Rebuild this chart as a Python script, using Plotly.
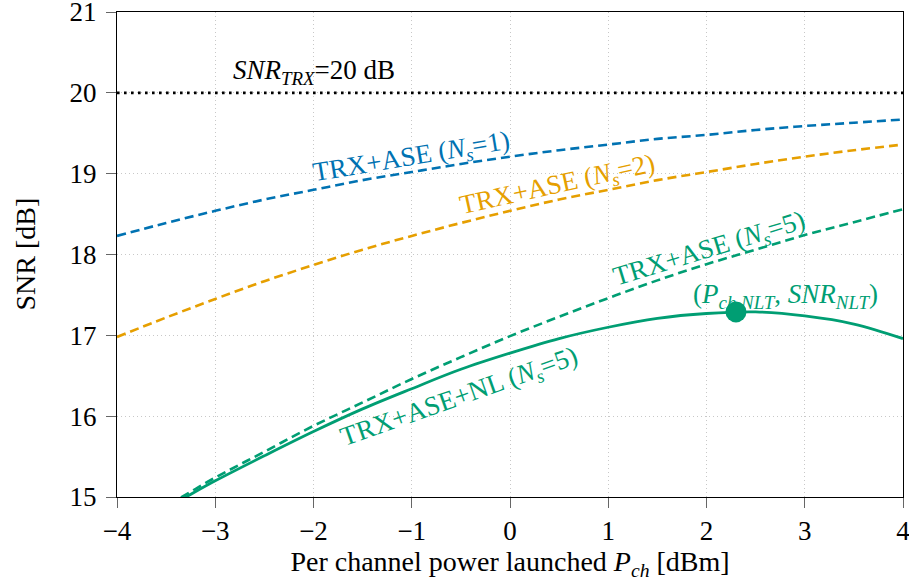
import plotly.graph_objects as go

# Launch power grid [dBm]
p_ch = [-4.0, -3.5, -3.0, -2.5, -2.0, -1.5, -1.0, -0.5, 0.0, 0.5,
        1.0, 1.5, 2.0, 2.5, 3.0, 3.5, 4.0]

# SNR [dB] per configuration
snr_ase_ns1 = [18.23, 18.39, 18.54, 18.68, 18.80, 18.92, 19.02, 19.12, 19.21,
               19.29, 19.36, 19.43, 19.48, 19.54, 19.59, 19.63, 19.67]
snr_ase_ns2 = [16.98, 17.22, 17.45, 17.67, 17.87, 18.06, 18.23, 18.39, 18.54,
               18.68, 18.80, 18.92, 19.02, 19.12, 19.21, 19.29, 19.36]
snr_ase_ns5 = [14.65, 14.90, 15.24, 15.56, 15.88, 16.17, 16.46, 16.73, 16.99,
               17.23, 17.46, 17.68, 17.88, 18.06, 18.24, 18.40, 18.56]
snr_nl_ns5 = [14.60, 14.87, 15.20, 15.51, 15.81, 16.09, 16.34, 16.58, 16.78,
              16.96, 17.10, 17.21, 17.27, 17.29, 17.24, 17.14, 16.96]

snr_trx = 20.0
p_nlt = 2.3
snr_nlt = 17.29

BLUE = "#0072B2"
ORANGE = "#E69F00"
GREEN = "#009E73"
FONT = "Liberation Serif, Times New Roman, serif"
TICK_SIZE = 27
TITLE_SIZE = 28
LABEL_SIZE = 27

fig = go.Figure()

fig.add_trace(go.Scatter(x=[-4, 4], y=[snr_trx, snr_trx], mode="lines",
                         line=dict(color="black", width=2.6, dash="2.6px,4.4px"),
                         showlegend=False, hoverinfo="skip"))
fig.add_trace(go.Scatter(x=p_ch, y=snr_ase_ns1, mode="lines", line_shape="spline",
                         line=dict(color=BLUE, width=2.6, dash="9px,5px"),
                         showlegend=False))
fig.add_trace(go.Scatter(x=p_ch, y=snr_ase_ns2, mode="lines", line_shape="spline",
                         line=dict(color=ORANGE, width=2.6, dash="9px,5px"),
                         showlegend=False))
fig.add_trace(go.Scatter(x=p_ch, y=snr_ase_ns5, mode="lines", line_shape="spline",
                         line=dict(color=GREEN, width=2.6, dash="9px,5px"),
                         showlegend=False))
fig.add_trace(go.Scatter(x=p_ch, y=snr_nl_ns5, mode="lines", line_shape="spline",
                         line=dict(color=GREEN, width=2.8),
                         showlegend=False))
fig.add_trace(go.Scatter(x=[p_nlt], y=[snr_nlt], mode="markers",
                         marker=dict(color=GREEN, size=21),
                         showlegend=False))

labels = [
    dict(x=-2.0, y=20.26, text="<i>SNR<sub>TRX</sub></i>=20 dB", color="black", angle=0),
    dict(x=-1.00, y=19.19, text="TRX+ASE (<i>N<sub>s</sub></i>=1)", color=BLUE, angle=-9.5),
    dict(x=0.48, y=18.85, text="TRX+ASE (<i>N<sub>s</sub></i>=2)", color=ORANGE, angle=-12.5),
    dict(x=2.03, y=18.06, text="TRX+ASE (<i>N<sub>s</sub></i>=5)", color=GREEN, angle=-17),
    dict(x=-0.51, y=16.22, text="TRX+ASE+NL (<i>N<sub>s</sub></i>=5)", color=GREEN, angle=-19.5),
    dict(x=2.80, y=17.49, text="(<i>P<sub>ch,NLT</sub></i>, <i>SNR<sub>NLT</sub></i>)", color=GREEN, angle=0),
]
for lb in labels:
    fig.add_annotation(x=lb["x"], y=lb["y"], text=lb["text"], showarrow=False,
                       textangle=lb["angle"], xanchor="center", yanchor="middle",
                       font=dict(family=FONT, size=LABEL_SIZE, color=lb["color"]))

# y-axis title placed as a rotated paper annotation
fig.add_annotation(xref="paper", yref="paper", x=-0.117, y=0.5, text="SNR [dB]",
                   showarrow=False, textangle=-90, xanchor="center", yanchor="middle",
                   font=dict(family=FONT, size=TITLE_SIZE, color="black"))

axis_common = dict(showline=True, linecolor="black", linewidth=1, mirror=True,
                   ticks="outside", ticklen=10, tickcolor="#666", tickwidth=1,
                   showgrid=True, gridcolor="#c8c8c8", griddash="1px,3px", gridwidth=1,
                   zeroline=False, automargin=False, ticklabeloverflow="allow",
                   tickfont=dict(family=FONT, size=TICK_SIZE, color="black"))

fig.update_xaxes(range=[-4, 4], tickvals=[-4, -3, -2, -1, 0, 1, 2, 3, 4],
                 ticktext=["\u22124", "\u22123", "\u22122", "\u22121", "0", "1", "2", "3", "4"],
                 title=dict(text="Per channel power launched <i>P<sub>ch</sub></i> [dBm]",
                            font=dict(family=FONT, size=TITLE_SIZE, color="black"), standoff=6),
                 **axis_common)
fig.update_yaxes(range=[15, 21], dtick=1, ticklabelstandoff=4, **axis_common)

fig.update_layout(width=909, height=581, plot_bgcolor="white", paper_bgcolor="white",
                  font=dict(family=FONT),
                  margin=dict(l=117, r=6, t=12, b=84))

fig.write_html("out.html")
